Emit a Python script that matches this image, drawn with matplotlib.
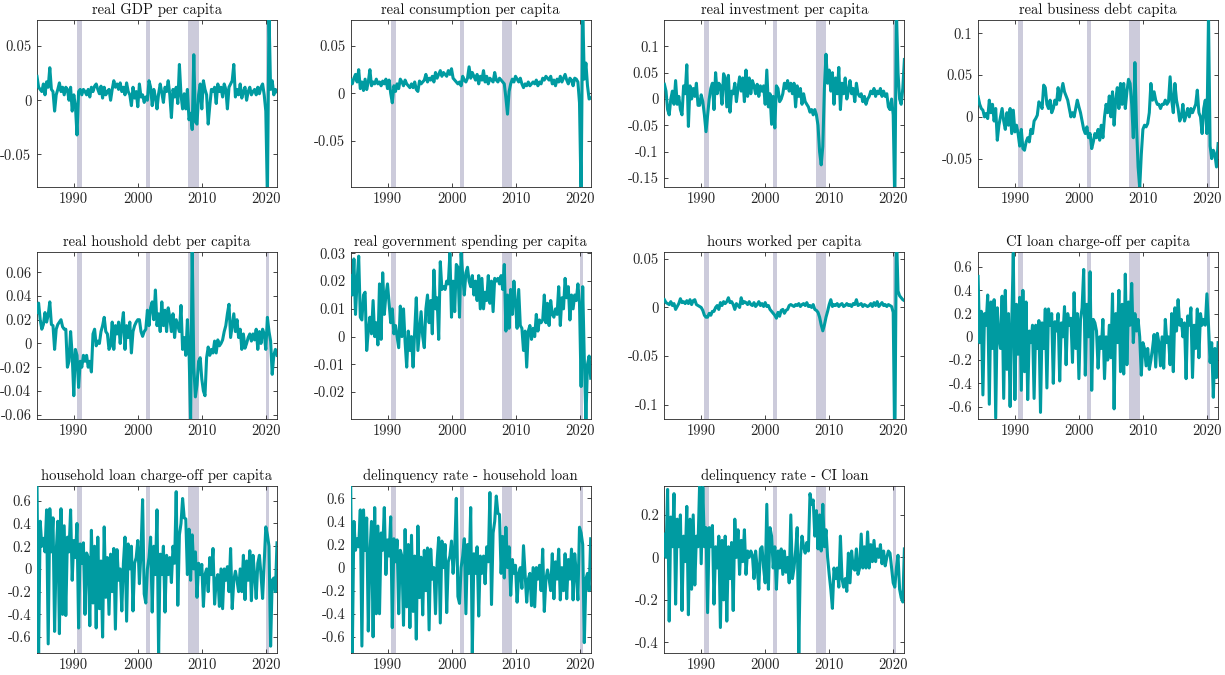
import matplotlib
matplotlib.use("Agg")
import matplotlib.pyplot as plt
import numpy as np

plt.rcParams['font.family'] = ['cmr10', 'DejaVu Serif']
plt.rcParams['axes.unicode_minus'] = False
plt.rcParams['mathtext.fontset'] = 'cm'

# quarterly data, first point 1984Q2
start_year = 1984.25

titles = ["real GDP per capita", "real consumption per capita",
          "real investment per capita", "real business debt capita",
          "real houshold debt per capita", "real government spending per capita",
          "hours worked per capita", "CI loan charge-off per capita",
          "household loan charge-off per capita", "delinquency rate - household loan",
          "delinquency rate - CI loan"]

recessions = [(1990.5, 1991.25), (2001.25, 2001.9), (2007.9, 2009.5), (2020.0, 2020.5)]

gdp = [0.022, 0.012, 0.010,
       0.008, 0.015, 0.005, 0.017,  0.012, 0.030, 0.010, 0.008,
       -0.010, 0.005, 0.010, 0.016,  0.008, 0.012, 0.005, 0.012,
       0.010, 0.000, 0.012, -0.010,  0.005, -0.005, -0.032, 0.008,
       0.010, 0.005, 0.010, 0.008,  0.005, 0.010, 0.003, 0.012,
       0.008, 0.013, 0.015, 0.010,  0.006, 0.013, 0.002, 0.012,
       0.005, 0.008, 0.010, 0.000,  0.010, 0.018, 0.012, 0.015,
       0.010, 0.016, 0.008, 0.012,  0.005, 0.016, 0.008, 0.005,
       -0.005, 0.012, 0.002, 0.008,  -0.006, 0.015, 0.003, 0.005,
       -0.002, 0.003, 0.000, 0.018,  0.012, -0.005, 0.010, 0.003,
       -0.008, 0.006, 0.015, 0.007,  -0.002, 0.012, 0.008, 0.018,
       0.005, -0.016, 0.010, 0.003,  0.012, -0.003, 0.033, 0.005,
       -0.008, 0.006, -0.008, 0.010,  -0.018, -0.012, -0.027, 0.042,
       -0.020, -0.022, 0.005, 0.015,  -0.008, 0.018, 0.010, 0.005,
       -0.022, -0.005, 0.010, 0.008,  0.012, -0.003, 0.015, 0.008,
       0.012, 0.003, 0.015, 0.010,  -0.008, 0.012, 0.015, 0.018,
       0.033, 0.003, 0.010, 0.005,  0.015, 0.002, 0.008, 0.012,
       0.000, 0.008, 0.012, 0.005,  0.008, 0.010, 0.005, 0.012,
       0.006, 0.012, 0.015, 0.005,  -0.010, -0.090, 0.080, 0.010,
       0.018, 0.005, 0.010, 0.008]

consumption = [0.014, 0.010, 0.016,
       0.020, 0.012, 0.025, 0.005,  0.012, 0.003, 0.015, 0.004,
       0.012, 0.025, 0.008, 0.012,  0.010, 0.015, 0.010, 0.012,
       0.008, 0.013, 0.010, 0.015,  0.005, 0.014, 0.000, -0.010,
       0.008, 0.002, 0.010, 0.005,  0.015, 0.012, 0.008, 0.014,
       0.010, 0.008, 0.006, 0.010,  0.006, 0.012, 0.004, 0.002,
       0.013, 0.010, 0.012, 0.014,  0.020, 0.012, 0.016, 0.014,
       0.018, 0.012, 0.022, 0.016,  0.020, 0.024, 0.018, 0.022,
       0.020, 0.018, 0.024, 0.020,  0.026, 0.016, 0.014, 0.012,
       0.010, 0.012, 0.008, 0.018,  0.014, 0.012, 0.016, 0.028,
       0.016, 0.022, 0.018, 0.014,  0.020, 0.010, 0.018, 0.014,
       0.024, 0.012, 0.018, 0.010,  0.016, 0.014, 0.012, 0.022,
       0.014, 0.012, 0.016, 0.014,  0.012, 0.010, -0.005, -0.022,
       0.002, 0.010, 0.015, 0.012,  0.018, 0.015, 0.012, 0.016,
       0.010, 0.006, 0.010, 0.008,  0.012, 0.008, 0.010, 0.012,
       0.010, 0.014, 0.008, 0.012,  0.010, 0.016, 0.014, 0.018,
       0.016, 0.014, 0.018, 0.010,  0.014, 0.008, 0.015, 0.012,
       0.018, 0.012, 0.016, 0.020,  0.014, 0.010, 0.016, 0.014,
       0.008, 0.016, 0.015, 0.012,  -0.010, -0.110, 0.090, 0.015,
       0.032, 0.008, -0.006, -0.005]

investment = [0.028, 0.015, -0.020,
       -0.030, 0.000, 0.015, -0.010,  0.035, -0.010, 0.005, -0.020,
       -0.030, 0.025, 0.010, 0.065,  -0.052, 0.025, 0.000, 0.020,
       0.005, 0.030, -0.012, -0.012,  0.008, -0.005, -0.030, -0.062,
       -0.030, 0.000, 0.020, 0.030,  -0.020, 0.050, 0.010, 0.030,
       0.025, -0.010, 0.048, 0.040,  -0.015, 0.045, -0.025, 0.015,
       0.010, 0.030, -0.005, 0.020,  0.042, 0.015, 0.040, -0.005,
       0.055, 0.005, 0.040, 0.010,  0.035, 0.025, 0.010, 0.028,
       0.005, 0.025, 0.015, 0.025,  -0.010, 0.055, -0.015, 0.010,
       -0.048, 0.005, -0.055, 0.025,  0.020, -0.005, 0.000, 0.010,
       0.030, 0.020, 0.035, 0.015,  0.030, 0.010, 0.030, -0.015,
       0.025, 0.005, 0.020, -0.010,  0.010, -0.005, -0.010, -0.015,
       -0.025, -0.020, -0.030, -0.020,  -0.030, -0.050, -0.100, -0.125,
       -0.090, 0.020, 0.085, 0.030,  0.055, 0.015, 0.050, -0.010,
       0.040, 0.010, 0.060, -0.020,  0.030, 0.010, 0.040, 0.000,
       0.015, 0.035, 0.010, 0.020,  -0.005, 0.030, 0.010, 0.005,
       0.010, -0.005, 0.005, -0.010,  0.000, 0.005, 0.015, 0.010,
       0.020, 0.005, 0.015, 0.010,  0.020, 0.005, 0.015, 0.005,
       0.010, -0.015, -0.020, 0.000,  -0.030, -0.200, 0.170, 0.050,
       0.000, -0.010, 0.020, 0.075]

business_debt = [0.024, 0.015, 0.010,
       0.008, 0.000, 0.004, -0.002,  0.020, 0.005, 0.015, -0.005,
       0.010, -0.028, -0.010, 0.000,  0.010, -0.005, -0.015, 0.005,
       -0.010, 0.010, -0.020, 0.008,  -0.018, -0.010, -0.020, -0.035,
       -0.015, -0.038, -0.040, -0.030,  -0.025, -0.030, -0.015, -0.020,
       -0.005, -0.002, 0.002, 0.018,  0.015, 0.010, 0.038, 0.035,
       0.015, 0.010, 0.020, 0.005,  0.010, 0.020, 0.015, 0.035,
       0.020, 0.030, 0.040, 0.030,  0.025, 0.020, 0.010, 0.000,
       0.005, 0.000, 0.010, 0.020,  0.012, 0.005, -0.005, -0.015,
       -0.020, -0.012, -0.025, -0.020,  -0.038, -0.030, -0.020, -0.025,
       -0.015, -0.028, -0.010, -0.025,  0.000, 0.015, 0.005, 0.025,
       0.000, 0.030, -0.010, 0.020,  0.035, 0.010, 0.040, 0.015,
       0.040, 0.010, 0.030, 0.045,  0.040, 0.015, -0.025, 0.065,
       -0.010, -0.060, -0.085, -0.045,  -0.015, -0.010, -0.012, -0.008,
       0.005, 0.040, 0.020, 0.030,  0.020, 0.015, 0.015, 0.010,
       0.015, 0.015, 0.020, 0.015,  0.018, 0.048, 0.020, 0.005,
       0.040, 0.020, 0.010, -0.005,  0.000, 0.015, -0.005, 0.002,
       0.010, 0.000, 0.010, 0.005,  0.010, 0.015, 0.032, 0.005,
       0.000, -0.020, 0.010, 0.020,  -0.020, 0.120, -0.035, -0.050,
       -0.040, -0.045, -0.060, -0.032]

household_debt = [0.026, 0.034, 0.020,
       0.012, 0.016, 0.026, 0.018,  0.024, 0.035, 0.016, 0.015,
       -0.005, 0.012, 0.016, 0.018,  0.020, 0.014, 0.012, 0.012,
       -0.020, -0.015, 0.010, -0.010,  -0.044, -0.005, -0.010, -0.037,
       -0.015, -0.020, -0.010, -0.015,  -0.010, -0.020, -0.015, -0.024,
       0.008, 0.012, -0.002, 0.002,  0.000, 0.010, 0.015, 0.022,
       0.010, 0.008, -0.005, -0.002,  0.018, -0.005, 0.015, 0.008,
       0.018, 0.000, 0.015, 0.026,  -0.005, 0.015, 0.005, 0.018,
       -0.008, 0.010, 0.015, 0.018,  0.020, 0.020, 0.010, 0.006,
       0.010, 0.012, 0.028, 0.015,  0.030, 0.035, 0.020, 0.045,
       0.015, 0.025, 0.010, 0.035,  0.015, 0.028, 0.010, 0.030,
       0.022, 0.010, 0.025, 0.005,  0.020, 0.015, 0.010, 0.032,
       -0.005, 0.005, -0.010, 0.020,  -0.005, -0.065, 0.080, -0.020,
       -0.045, -0.035, -0.015, -0.012,  -0.030, -0.040, -0.044, -0.012,
       -0.003, -0.010, -0.005, -0.008,  0.002, -0.008, 0.003, -0.002,
       0.000, 0.003, 0.010, 0.015,  0.025, 0.033, 0.005, 0.015,
       0.025, 0.010, 0.020, 0.005,  0.012, -0.005, 0.008, -0.004,
       0.000, 0.005, 0.008, 0.002,  0.008, 0.003, 0.012, -0.005,
       0.010, 0.000, 0.012, 0.008,  -0.005, 0.022, 0.010, 0.002,
       -0.026, -0.010, -0.005, -0.010]

government = [0.022, 0.015, 0.028,
       0.008, 0.020, 0.029, 0.007,  0.006, 0.015, 0.016, -0.005,
       0.002, 0.007, 0.001, 0.013,  0.000, 0.005, -0.003, 0.019,
       -0.001, 0.023, 0.008, 0.015,  0.019, 0.012, 0.005, 0.010,
       0.001, 0.004, 0.000, -0.004,  0.011, 0.000, 0.010, -0.002,
       -0.011, 0.002, -0.005, 0.000,  -0.011, 0.002, 0.014, -0.005,
       0.002, 0.009, 0.000, -0.004,  0.010, 0.015, 0.005, 0.013,
       0.001, 0.024, 0.010, 0.014,  -0.001, 0.027, 0.017, 0.018,
       0.017, 0.020, 0.019, 0.030,  0.007, 0.020, 0.009, 0.026,
       0.025, 0.007, 0.030, 0.022,  0.015, 0.023, 0.025, 0.020,
       0.018, 0.022, 0.015, 0.020,  0.013, 0.022, 0.010, 0.021,
       0.010, 0.016, 0.013, 0.022,  0.012, 0.020, 0.009, 0.021,
       0.020, 0.021, 0.019, 0.022,  0.017, 0.026, 0.002, 0.015,
       0.003, 0.017, 0.008, 0.020,  0.012, 0.003, 0.017, 0.004,
       0.003, -0.005, 0.002, -0.011,  0.002, 0.004, -0.001, 0.003,
       0.000, 0.008, 0.002, 0.006,  0.005, 0.006, 0.015, 0.005,
       0.012, 0.004, 0.013, 0.008,  0.007, 0.010, 0.008, 0.018,
       0.004, 0.014, 0.010, 0.021,  0.014, 0.018, 0.006, 0.015,
       0.010, 0.015, 0.013, 0.019,  0.012, -0.018, 0.018, -0.008,
       -0.030, -0.010, -0.007, -0.015]

hours = [0.008, 0.005, 0.004,
       0.003, 0.006, 0.002, 0.004,  -0.002, 0.001, 0.004, 0.009,
       0.005, 0.006, 0.004, 0.007,  0.004, 0.008, 0.003, 0.007,
       0.008, 0.003, 0.002, 0.001,  0.000, -0.003, -0.008, -0.010,
       -0.010, -0.006, -0.008, -0.004,  -0.004, 0.000, 0.002, -0.002,
       0.005, 0.002, 0.006, 0.004,  0.006, 0.010, 0.005, 0.006,
       0.003, -0.002, 0.004, 0.002,  0.000, 0.010, 0.004, 0.006,
       0.005, 0.003, 0.006, 0.003,  0.002, 0.005, 0.001, 0.003,
       0.006, 0.002, 0.004, 0.001,  0.005, 0.001, 0.002, -0.002,
       -0.004, -0.006, -0.008, -0.011,  -0.005, -0.009, -0.003, -0.002,
       -0.006, -0.003, -0.002, 0.002,  0.003, 0.002, 0.001, 0.003,
       0.002, 0.004, 0.001, 0.003,  0.004, 0.002, 0.005, 0.001,
       0.002, 0.000, 0.003, -0.002,  -0.003, -0.005, -0.010, -0.018,
       -0.024, -0.018, -0.010, -0.004,  0.003, 0.008, 0.001, 0.003,
       0.002, 0.004, 0.001, 0.003,  0.004, 0.001, 0.002, 0.004,
       0.002, 0.003, 0.001, 0.004,  0.003, 0.008, 0.002, 0.003,
       0.004, 0.001, 0.003, 0.002,  0.001, 0.002, 0.004, 0.001,
       0.005, 0.002, 0.006, 0.001,  0.003, 0.005, 0.002, 0.003,
       0.001, 0.003, 0.002, 0.001,  -0.005, -0.150, 0.080, 0.017,
       0.012, 0.010, 0.008, 0.007]

ci_chargeoff = [0.52, -0.05, 0.22,
       -0.50, 0.20, 0.10, 0.36,  -0.58, 0.30, -0.10, 0.32,
       -0.70, 0.25, 0.00, -0.10,  0.35, -0.53, 0.40, -0.28,
       0.20, -0.60, 0.10, 0.72,  -0.54, 0.28, -0.15, 0.34,
       -0.46, 0.40, -0.30, 0.30,  -0.54, 0.05, -0.05, 0.10,
       -0.53, 0.10, -0.10, 0.14,  -0.65, 0.12, -0.10, 0.24,
       -0.44, 0.24, 0.10, 0.20,  -0.40, 0.13, 0.05, 0.20,
       -0.38, 0.12, 0.00, 0.26,  -0.24, 0.20, 0.10, 0.16,
       -0.22, 0.38, -0.10, 0.20,  -0.36, 0.15, 0.25, 0.58,
       -0.33, 0.28, 0.00, 0.56,  -0.46, 0.15, 0.12, 0.05,
       -0.27, 0.00, -0.10, 0.15,  -0.36, 0.00, -0.20, 0.10,
       -0.18, 0.37, -0.62, 0.20,  -0.05, 0.40, -0.30, 0.28,
       -0.32, 0.54, -0.24, 0.30,  0.10, 0.46, -0.05, 0.20,
       0.05, 0.15, 0.00, -0.33,  -0.05, -0.10, -0.25, -0.10,
       -0.28, -0.20, -0.10, 0.02,  -0.26, 0.03, -0.05, -0.25,
       0.00, -0.27, 0.15, -0.05,  0.00, -0.24, 0.20, -0.30,
       0.25, 0.05, 0.32, 0.10,  0.15, 0.00, 0.12, -0.36,
       0.18, 0.10, 0.25, -0.35,  0.10, -0.10, 0.24, -0.18,
       0.20, 0.10, 0.15, 0.10,  0.37, 0.10, -0.22, -0.05,
       -0.52, -0.10, -0.35, -0.05]

hh_chargeoff = [0.75, -0.75, 0.42,
       0.20, 0.27, 0.15, 0.52,  -0.66, 0.53, 0.15, 0.45,
       -0.55, 0.15, 0.42, -0.57,  0.53, -0.40, 0.38, -0.41,
       0.28, 0.15, 0.52, -0.10,  0.25, 0.10, 0.40, -0.52,
       0.22, 0.05, 0.23, -0.40,  0.14, 0.10, -0.50, 0.34,
       -0.30, 0.20, -0.52, 0.28,  -0.35, 0.07, -0.60, 0.37,
       -0.25, 0.10, -0.40, 0.13,  -0.20, 0.18, -0.53, 0.17,
       -0.10, 0.00, -0.37, 0.05,  0.28, -0.46, 0.22, 0.00,
       0.20, -0.37, 0.05, 0.10,  0.25, -0.13, 0.15, 0.61,
       -0.22, -0.30, 0.00, 0.10,  0.28, -0.38, 0.20, -0.05,
       0.52, -0.75, 0.13, -0.05,  0.20, -0.38, 0.12, -0.05,
       0.10, -0.12, 0.20, 0.05,  0.68, -0.32, 0.30, 0.40,
       0.62, 0.45, 0.44, -0.05,  0.35, -0.10, 0.30, 0.00,
       0.15, -0.25, 0.05, -0.05,  0.04, -0.33, -0.05, 0.00,
       -0.20, 0.10, -0.05, 0.18,  -0.31, -0.10, -0.05, -0.33,
       0.00, -0.35, 0.00, -0.10,  0.02, -0.20, 0.18, -0.35,
       -0.10, -0.02, -0.10, -0.20,  0.00, -0.20, 0.12, -0.27,
       0.07, -0.10, 0.16, -0.28,  0.12, -0.05, -0.26, 0.05,
       0.12, -0.05, -0.26, 0.05,  0.37, 0.30, 0.20, -0.68,
       -0.10, -0.08, -0.20, 0.23]

hh_delinquency = [0.72, -0.75, 0.40,
       0.15, 0.25, 0.18, 0.50,  -0.68, 0.50, 0.15, 0.43,
       -0.55, 0.12, 0.40, -0.60,  0.52, -0.40, 0.36, -0.40,
       0.30, 0.15, 0.52, -0.06,  0.24, 0.10, 0.44, -0.52,
       0.25, 0.05, 0.24, -0.40,  0.15, 0.10, -0.50, 0.33,
       -0.34, 0.20, -0.52, 0.28,  -0.38, 0.10, -0.62, 0.36,
       -0.26, 0.09, -0.41, 0.15,  -0.20, 0.17, -0.54, 0.16,
       -0.10, 0.00, -0.40, 0.05,  0.26, -0.48, 0.23, 0.00,
       0.20, -0.39, 0.05, 0.10,  0.23, -0.05, 0.15, 0.60,
       -0.25, -0.31, 0.00, 0.10,  0.25, -0.40, 0.20, -0.05,
       0.52, -0.75, 0.12, -0.05,  0.18, -0.42, 0.10, -0.05,
       0.10, -0.14, 0.18, 0.05,  0.65, -0.32, 0.30, 0.40,
       0.62, 0.47, 0.46, -0.05,  0.27, -0.09, 0.35, 0.00,
       0.18, -0.24, 0.07, -0.05,  0.02, -0.30, -0.05, 0.00,
       -0.18, 0.19, -0.05, -0.30,  -0.10, -0.05, -0.33, 0.00,
       -0.34, 0.00, -0.10, 0.02,  -0.20, 0.16, -0.38, -0.10,
       -0.02, -0.10, -0.20, 0.12,  -0.27, 0.05, -0.10, 0.16,
       -0.28, 0.00, -0.20, 0.12,  -0.27, 0.07, -0.10, 0.16,
       -0.28, 0.12, -0.05, -0.28,  0.35, 0.30, 0.20, -0.65,
       -0.10, -0.05, -0.20, 0.25]

ci_delinquency = [0.11, 0.00, 0.32,
       -0.30, 0.19, 0.05, 0.30,  -0.22, 0.18, 0.05, 0.20,
       -0.25, 0.10, -0.02, 0.24,  -0.27, 0.18, -0.15, 0.20,
       -0.13, 0.10, 0.05, 0.34,  -0.03, 0.33, 0.05, 0.14,
       -0.26, 0.14, 0.05, 0.15,  -0.22, 0.05, -0.05, 0.10,
       -0.33, 0.08, -0.20, 0.10,  -0.30, 0.05, -0.10, 0.07,
       -0.25, 0.18, 0.00, 0.13,  -0.08, 0.08, -0.02, 0.13,
       -0.08, 0.03, 0.00, 0.03,  0.01, -0.10, 0.03, -0.05,
       -0.15, 0.04, 0.05, -0.05,  -0.12, 0.25, -0.15, 0.14,
       0.10, -0.05, 0.05, -0.15,  0.03, -0.05, 0.04, -0.08,
       0.03, -0.07, 0.00, -0.12,  0.20, -0.10, -0.05, 0.03,
       0.14, -0.45, 0.00, 0.10,  0.05, 0.02, 0.07, 0.03,
       0.30, 0.25, 0.27, 0.10,  0.22, 0.04, 0.20, 0.03,
       0.25, 0.05, 0.13, 0.00,  -0.08, -0.15, -0.24, -0.05,
       -0.10, -0.05, -0.14, 0.10,  -0.10, -0.14, -0.10, -0.16,
       0.02, -0.12, 0.03, -0.05,  -0.06, 0.04, -0.08, -0.05,
       0.11, -0.05, 0.05, -0.05,  0.12, -0.05, 0.06, -0.02,
       0.08, -0.02, 0.04, 0.00,  0.06, -0.03, 0.03, -0.04,
       0.00, 0.03, 0.02, -0.05,  -0.12, -0.14, -0.05, 0.01,
       -0.15, -0.19, -0.21, 0.04]

series = [gdp, consumption, investment, business_debt, household_debt, government,
          hours, ci_chargeoff, hh_chargeoff, hh_delinquency, ci_delinquency]

ylims = [(-0.080, 0.074), (-0.099, 0.0775), (-0.167, 0.150), (-0.084, 0.116),
         (-0.0636, 0.077), (-0.0297, 0.0305), (-0.1146, 0.057), (-0.707, 0.73),
         (-0.74, 0.73), (-0.74, 0.707), (-0.45, 0.336)]

yticks = [[-0.05, 0, 0.05], [-0.05, 0, 0.05], [-0.15, -0.1, -0.05, 0, 0.05, 0.1],
          [-0.05, 0, 0.05, 0.1], [-0.06, -0.04, -0.02, 0, 0.02, 0.04, 0.06],
          [-0.02, -0.01, 0, 0.01, 0.02, 0.03], [-0.1, -0.05, 0, 0.05],
          [-0.6, -0.4, -0.2, 0, 0.2, 0.4, 0.6], [-0.6, -0.4, -0.2, 0, 0.2, 0.4, 0.6],
          [-0.6, -0.4, -0.2, 0, 0.2, 0.4, 0.6], [-0.4, -0.2, 0, 0.2]]

line_color = '#009ba1'
band_color = '#cccbdb'
axis_color = '#262626'

fig = plt.figure(figsize=(12.25, 6.75), dpi=100)
W, H = 1225.0, 675.0
row_tops = [20, 252, 486]

for k in range(len(series)):
    row, col = k // 4, k % 4
    left = 37 + 313.7 * col
    top = row_tops[row]
    ax = fig.add_axes([left / W, 1 - (top + 167) / H, 240 / W, 167 / H])

    for a, b in recessions:
        ax.axvspan(a, b, color=band_color, lw=0, zorder=1)

    values = np.array(series[k])
    dates = start_year + 0.25 * np.arange(len(values))
    ax.plot(dates, values, color=line_color, lw=2.2, zorder=3)

    ax.set_xlim(1984.25, 2021.75)
    ax.set_ylim(*ylims[k])
    ax.set_xticks([1990, 2000, 2010, 2020])
    ax.set_yticks(yticks[k])
    ax.set_yticklabels(['%g' % v for v in yticks[k]])
    ax.tick_params(direction='in', top=True, right=True, length=3, width=0.6,
                   labelsize=10.5, colors=axis_color, pad=4)
    for s in ax.spines.values():
        s.set_color(axis_color)
        s.set_linewidth(0.6)
    ax.set_title(titles[k], fontsize=10.5, pad=4, color='#111111')

fig.savefig("out.png", dpi=100)
